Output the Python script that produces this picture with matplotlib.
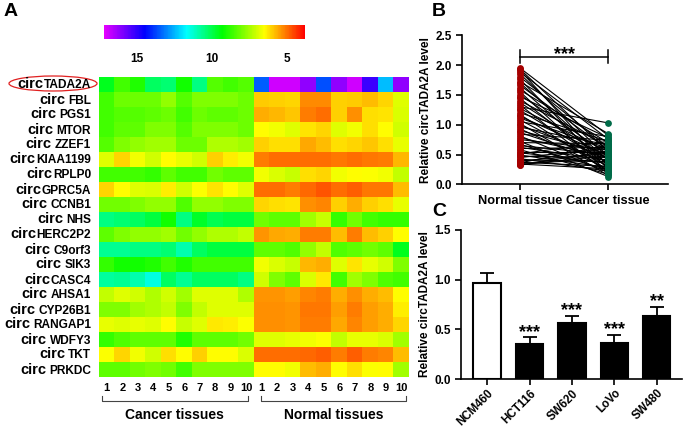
import matplotlib
matplotlib.use('Agg')
import matplotlib.pyplot as plt
import numpy as np
from matplotlib.colors import LinearSegmentedColormap, Normalize
from matplotlib.patches import Ellipse
from matplotlib.lines import Line2D

plt.rcParams['font.family'] = 'Liberation Sans'
plt.rcParams['font.weight'] = 'bold'
plt.rcParams['axes.labelweight'] = 'bold'

W, H = 685, 429

def fx(x):
    return x / W

def fy(y):
    return 1 - y / H

# ---- panel A data (Ct-like values, low = red, high = magenta) ----
genes = ['TADA2A', ' FBL', ' PGS1', ' MTOR', ' ZZEF1', 'KIAA1199', 'RPLP0', 'GPRC5A',
         ' CCNB1', ' NHS', 'HERC2P2', ' C9orf3', ' SIK3', 'CASC4', ' AHSA1',
         ' CYP26B1', ' RANGAP1', ' WDFY3', ' TKT', ' PRKDC']

cancer_vals = [
    [9.6, 8.6, 8.95, 10.2, 10.35, 9.1, 10.5, 8.4, 8.6, 8.4],
    [8.6, 8.1, 8.1, 8.1, 7.7, 8.4, 7.9, 7.9, 7.9, 8.1],
    [8.6, 8.4, 8.4, 8.25, 8.1, 8.6, 8.1, 8.25, 8.25, 8.1],
    [8.6, 8.25, 8.25, 7.9, 7.9, 8.4, 7.9, 7.9, 7.9, 8.1],
    [8.4, 7.9, 7.7, 7.55, 7.55, 8.1, 8.1, 7.4, 7.4, 7.55],
    [6.84, 6.09, 6.66, 7.02, 6.5, 6.75, 7.02, 6.0, 6.34, 6.66],
    [8.6, 8.6, 8.6, 8.77, 8.25, 8.6, 8.6, 8.07, 8.25, 8.25],
    [6.09, 6.5, 6.84, 6.93, 6.34, 7.02, 6.57, 6.26, 6.5, 6.84],
    [8.07, 8.07, 7.9, 7.72, 7.72, 8.42, 7.72, 7.72, 7.9, 7.9],
    [10.5, 10.35, 10.2, 9.9, 9.1, 10.5, 9.7, 10.05, 9.9, 9.9],
    [8.25, 7.9, 7.72, 7.72, 7.54, 8.07, 7.72, 7.37, 7.37, 7.19],
    [10.66, 10.66, 10.5, 10.5, 10.35, 10.96, 10.2, 9.9, 9.9, 9.9],
    [8.77, 9.12, 9.12, 8.95, 8.6, 8.95, 8.6, 8.6, 8.6, 8.6],
    [10.8, 10.66, 10.96, 11.4, 10.2, 10.66, 10.2, 10.2, 10.2, 10.5],
    [7.19, 6.84, 7.02, 7.37, 7.02, 7.54, 6.84, 6.84, 6.84, 7.37],
    [7.9, 7.9, 7.54, 7.37, 7.19, 7.9, 7.19, 6.84, 6.84, 6.84],
    [6.75, 6.84, 6.75, 6.84, 6.5, 7.1, 6.84, 6.3, 6.34, 6.57],
    [8.77, 8.42, 8.25, 8.25, 8.25, 8.95, 8.25, 8.25, 8.25, 8.07],
    [6.57, 6.09, 6.66, 7.02, 6.17, 6.5, 6.0, 6.5, 6.5, 6.93],
    [8.25, 8.25, 8.07, 7.9, 8.07, 8.6, 7.9, 7.9, 7.9, 7.9],
]

normal_vals = [
    [13.45, 16.9, 16.9, 16.2, 13.6, 16.2, 16.9, 15.2, 12.4, 16.2],
    [5.96, 6.0, 6.1, 5.3, 5.3, 6.0, 5.96, 5.8, 6.1, 6.85],
    [5.66, 5.75, 5.92, 5.15, 5.0, 6.0, 5.32, 6.17, 6.26, 6.93],
    [6.5, 6.66, 6.84, 6.26, 6.09, 6.84, 6.66, 6.17, 6.5, 7.02],
    [6.0, 6.17, 6.17, 5.58, 5.83, 6.17, 6.09, 5.92, 6.17, 6.75],
    [5.15, 5.0, 5.0, 5.0, 5.0, 5.07, 5.0, 5.07, 5.15, 5.75],
    [6.66, 6.93, 7.1, 6.17, 6.09, 6.66, 6.5, 6.57, 6.66, 7.19],
    [5.0, 5.0, 5.15, 4.9, 4.73, 5.0, 4.82, 5.07, 5.07, 5.83],
    [6.09, 6.17, 6.26, 5.32, 5.24, 6.0, 5.66, 6.0, 6.17, 6.75],
    [8.07, 8.25, 8.25, 7.54, 7.1, 8.77, 8.07, 8.6, 8.77, 8.77],
    [5.41, 5.58, 5.66, 5.15, 5.15, 5.83, 5.15, 5.83, 6.0, 6.5],
    [8.25, 8.25, 8.42, 7.72, 7.19, 8.42, 8.25, 8.07, 8.25, 9.6],
    [6.66, 6.93, 7.1, 5.75, 5.66, 6.84, 6.26, 6.75, 7.02, 7.9],
    [7.02, 7.9, 8.25, 6.93, 6.3, 8.6, 7.54, 7.9, 8.42, 8.6],
    [5.41, 5.41, 5.49, 5.24, 5.15, 5.66, 5.32, 5.66, 5.83, 6.5],
    [5.32, 5.32, 5.41, 5.07, 5.07, 5.49, 5.15, 5.49, 5.66, 6.34],
    [5.32, 5.32, 5.41, 5.15, 5.15, 5.58, 5.24, 5.49, 5.66, 6.09],
    [6.84, 6.84, 6.75, 6.66, 6.57, 7.19, 6.75, 6.75, 6.93, 7.54],
    [5.0, 5.0, 5.0, 4.9, 4.82, 5.15, 4.82, 5.15, 5.24, 5.83],
    [6.5, 6.5, 6.66, 5.83, 5.66, 6.5, 6.17, 6.57, 6.5, 7.54],
]

col_labels = [str(i) for i in range(1, 11)] * 2
cbar_ticks = [15, 10, 5]

# ---- panel B data (paired samples) ----
normal_tissue = [1.95, 1.93, 1.91, 1.88, 1.85, 1.80, 1.76, 1.72, 1.70, 1.66,
                 1.62, 1.58, 1.55, 1.50, 1.47, 1.44, 1.40, 1.37, 1.33, 1.30,
                 1.27, 1.24, 1.20, 1.17, 1.14, 1.11, 1.08, 1.05, 1.02, 0.99,
                 0.96, 0.93, 0.90, 0.87, 0.84, 0.81, 0.78, 0.75, 0.72, 0.70,
                 0.67, 0.65, 0.62, 0.60, 0.58, 0.55, 0.53, 0.51, 0.49, 0.47,
                 0.45, 0.43, 0.41, 0.39, 0.37, 0.36, 0.35, 0.34, 0.33, 0.32]
cancer_tissue = [0.82, 0.55, 0.30, 0.76, 0.45, 0.62, 0.25, 0.85, 0.40, 0.58,
                 0.33, 0.70, 0.20, 0.50, 0.78, 0.28, 0.64, 0.42, 0.18, 1.03,
                 0.55, 0.36, 0.72, 0.22, 0.48, 0.60, 0.30, 0.80, 0.15, 0.44,
                 0.66, 0.26, 0.52, 0.38, 0.74, 0.20, 0.46, 0.58, 0.13, 0.68,
                 0.24, 0.50, 0.40, 0.62, 0.17, 0.55, 0.35, 0.72, 0.28, 0.45,
                 0.60, 0.22, 0.38, 0.52, 0.30, 0.66, 0.42, 0.26, 0.48, 0.56]

# ---- panel C data ----
cell_lines = ['NCM460', 'HCT116', 'SW620', 'LoVo', 'SW480']
cell_means = [0.965, 0.35, 0.567, 0.36, 0.637]
cell_errs = [0.107, 0.07, 0.067, 0.083, 0.09]
cell_stars = ['', '***', '***', '***', '**']

fig = plt.figure(figsize=(6.85, 4.29), dpi=100)
renderer = fig.canvas.get_renderer()

# colormap: red (low) -> yellow -> green -> cyan -> blue -> magenta (high)
vmin, vmax = 3.8, 17.2
def pos(v):
    return (v - vmin) / (vmax - vmin)
cmap = LinearSegmentedColormap.from_list('ct', [
    (0, '#ff0000'), (pos(6.5), '#ffff00'), (pos(9.3), '#00ff00'),
    (pos(11.7), '#00ffff'), (pos(14.5), '#0000ff'), (1, '#e600ff')])

# heatmap
heat = np.hstack([np.array(cancer_vals), np.array(normal_vals)])
ax = fig.add_axes([fx(99), fy(377), 310 / W, 300 / H])
ax.imshow(heat, cmap=cmap, vmin=vmin, vmax=vmax, aspect='auto', interpolation='nearest')
ax.set_xticks(range(heat.shape[1]))
ax.set_xticklabels(col_labels, fontsize=8, fontweight='bold')
ax.tick_params(axis='x', length=0, pad=4)
ax.set_yticks([])
for s in ax.spines.values():
    s.set_visible(False)

# colour bar (reversed: high on the left)
cax = fig.add_axes([fx(104), fy(39), 201 / W, 14 / H])
sm = plt.cm.ScalarMappable(cmap=cmap, norm=Normalize(vmin, vmax))
cb = fig.colorbar(sm, cax=cax, orientation='horizontal')
cb.outline.set_visible(False)
cax.invert_xaxis()
cb.set_ticks(cbar_ticks)
cb.set_ticklabels([str(t) for t in cbar_ticks])
cax.tick_params(length=0, pad=10, labelsize=8.5)

# row labels: "circ" + gene name
for i, g in enumerate(genes):
    yb = 77 + 15 * (i + 0.5) + 4
    t = fig.text(fx(91), fy(yb), g.strip(), ha='right', va='baseline',
                 fontsize=8.6, fontweight='bold')
    bb = t.get_window_extent(renderer)
    gap = 3 if g.startswith(' ') else 0.3
    fig.text((bb.x0 - gap) / W, fy(yb), 'circ', ha='right', va='baseline',
             fontsize=10.5, fontweight='bold')

fig.add_artist(Ellipse((fx(53), fy(83.5)), 88 / W, 15 / H, transform=fig.transFigure,
                       fill=False, edgecolor='#e02020', lw=0.9))

# group brackets
for x0, x1, name in [(101.5, 248, 'Cancer tissues'), (260.7, 406, 'Normal tissues')]:
    fig.add_artist(Line2D([fx(x0), fx(x0), fx(x1), fx(x1)],
                          [fy(396), fy(401), fy(401), fy(396)], color='#444444', lw=0.8))
    fig.text(fx((x0 + x1) / 2), fy(415), name, ha='center', va='center',
             fontsize=10, fontweight='bold')

# ---- panel B ----
axb = fig.add_axes([fx(462), fy(184.3), 206 / W, 149 / H])
for n, c in zip(normal_tissue, cancer_tissue):
    axb.plot([0, 1], [n, c], color='black', lw=0.8, zorder=1)
axb.scatter([0] * len(normal_tissue), normal_tissue, s=24, color='#a50000',
            linewidths=0, zorder=3, clip_on=False)
axb.scatter([1] * len(cancer_tissue), cancer_tissue, s=24, color='#006b48',
            linewidths=0, zorder=3, clip_on=False)
axb.set_xlim(-0.66, 1.68)
axb.set_ylim(0, 2.5)
axb.set_yticks(np.arange(0, 2.51, 0.5))
axb.set_yticklabels(['%.1f' % v for v in np.arange(0, 2.51, 0.5)])
axb.set_xticks([0, 1])
axb.set_xticklabels(['Normal tissue', 'Cancer tissue'])
axb.set_ylabel('Relative circTADA2A level', fontsize=8.5, labelpad=2)
axb.plot([0, 1], [2.14, 2.14], color='black', lw=1.1)
axb.plot([0, 0], [2.03, 2.25], color='black', lw=1.1)
axb.plot([1, 1], [2.03, 2.25], color='black', lw=1.1)
axb.text(0.5, 2.17, '***', ha='center', va='center', fontsize=13)

# ---- panel C ----
axc = fig.add_axes([fx(461), fy(379), 221 / W, 149 / H])
xs = np.arange(len(cell_lines))
fills = ['white'] + ['black'] * (len(cell_lines) - 1)
axc.bar(xs, cell_means, width=0.65, color=fills, edgecolor='black', linewidth=1.5, zorder=2)
axc.errorbar(xs, cell_means, yerr=[np.zeros(len(xs)), cell_errs], fmt='none',
             ecolor='black', elinewidth=1.3, capsize=4.7, capthick=1.3, zorder=3)
for x, m, e, s in zip(xs, cell_means, cell_errs, cell_stars):
    if s:
        axc.text(x, m + e + 0.05, s, ha='center', va='center', fontsize=13)
axc.set_xlim(-0.62, 4.6)
axc.set_ylim(0, 1.5)
axc.set_yticks([0, 0.5, 1.0, 1.5])
axc.set_yticklabels(['0.0', '0.5', '1.0', '1.5'])
axc.set_xticks(xs)
axc.set_xticklabels(cell_lines, rotation=45, ha='right', va='top',
                    rotation_mode='anchor')
axc.set_ylabel('Relative circTADA2A level', fontsize=8.5, labelpad=2)

for a in (axb, axc):
    a.spines['top'].set_visible(False)
    a.spines['right'].set_visible(False)
    a.spines['left'].set_linewidth(1.2)
    a.spines['bottom'].set_linewidth(1.2)
    a.tick_params(direction='out', length=4, width=1.2, labelsize=8.5)
axc.tick_params(axis='x', pad=2)
for lbl in axb.get_xticklabels():
    lbl.set_fontsize(9.2)
for lbl in axc.get_xticklabels():
    lbl.set_fontsize(8.3)

fig.text(fx(4), fy(12), 'A', fontsize=14, fontweight='bold', va='center')
fig.text(fx(432), fy(12), 'B', fontsize=14, fontweight='bold', va='center')
fig.text(fx(432), fy(212), 'C', fontsize=14, fontweight='bold', va='center')

fig.savefig('out.png', dpi=100)
